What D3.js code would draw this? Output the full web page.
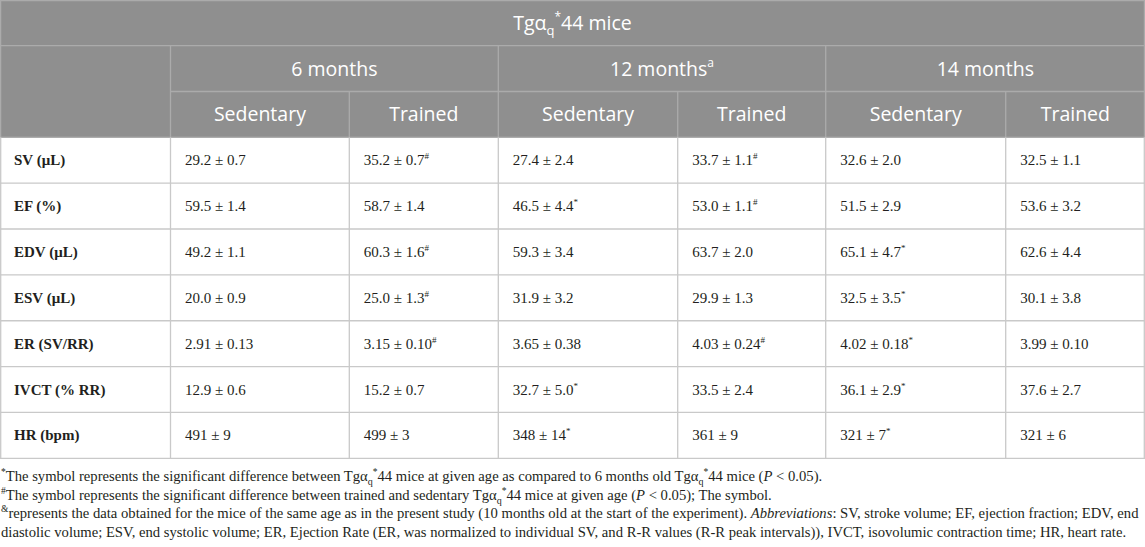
<!DOCTYPE html>
<html><head><meta charset="utf-8">
<script src="https://cdn.jsdelivr.net/npm/d3@7/dist/d3.min.js"></script>
<style>
html,body{margin:0;padding:0;background:#fff;}
svg{display:block;}
</style></head>
<body>
<svg id="chart" width="1145" height="547"></svg>
<script>
// ---- data ----
const titleParts = ["Tgα", "q", "*", "44 mice"];
const ages = ["6 months", "12 months", "14 months"];
const ageSup = ["", "a", ""];
const groups = ["Sedentary", "Trained"];
const rowLabels = ["SV (μL)", "EF (%)", "EDV (μL)", "ESV (μL)", "ER (SV/RR)", "IVCT (% RR)", "HR (bpm)"];
const sed6   = ["29.2 ± 0.7", "59.5 ± 1.4", "49.2 ± 1.1", "20.0 ± 0.9", "2.91 ± 0.13", "12.9 ± 0.6", "491 ± 9"];
const sed6M  = ["", "", "", "", "", "", ""];
const tr6    = ["35.2 ± 0.7", "58.7 ± 1.4", "60.3 ± 1.6", "25.0 ± 1.3", "3.15 ± 0.10", "15.2 ± 0.7", "499 ± 3"];
const tr6M   = ["#", "", "#", "#", "#", "", ""];
const sed12  = ["27.4 ± 2.4", "46.5 ± 4.4", "59.3 ± 3.4", "31.9 ± 3.2", "3.65 ± 0.38", "32.7 ± 5.0", "348 ± 14"];
const sed12M = ["", "*", "", "", "", "*", "*"];
const tr12   = ["33.7 ± 1.1", "53.0 ± 1.1", "63.7 ± 2.0", "29.9 ± 1.3", "4.03 ± 0.24", "33.5 ± 2.4", "361 ± 9"];
const tr12M  = ["#", "#", "", "", "#", "", ""];
const sed14  = ["32.6 ± 2.0", "51.5 ± 2.9", "65.1 ± 4.7", "32.5 ± 3.5", "4.02 ± 0.18", "36.1 ± 2.9", "321 ± 7"];
const sed14M = ["", "", "*", "*", "*", "*", "*"];
const tr14   = ["32.5 ± 1.1", "53.6 ± 3.2", "62.6 ± 4.4", "30.1 ± 3.8", "3.99 ± 0.10", "37.6 ± 2.7", "321 ± 6"];
const tr14M  = ["", "", "", "", "", "", ""];
const footnotes = [
  [["sup","*"],["t","The symbol represents the significant difference between Tgα"],["sub","q"],["sup","*"],["t","44 mice at given age as compared to 6 months old Tgα"],["sub","q"],["sup","*"],["t","44 mice ("],["i","P"],["t"," < 0.05)."]],
  [["sup","#"],["t","The symbol represents the significant difference between trained and sedentary Tgα"],["sub","q"],["sup","*"],["t","44 mice at given age ("],["i","P"],["t"," < 0.05); The symbol."]],
  [["sup","&"],["t","represents the data obtained for the mice of the same age as in the present study (10 months old at the start of the experiment). "],["i","Abbreviations"],["t",": SV, stroke volume; EF, ejection fraction; EDV, end"]],
  [["t","diastolic volume; ESV, end systolic volume; ER, Ejection Rate (ER, was normalized to individual SV, and R-R values (R-R peak intervals)), IVCT, isovolumic contraction time; HR, heart rate."]]
];

// ---- layout ----
const W = 1145;
const colEdges = [0, 170.5, 349.3, 498.3, 677.7, 825.7, 1005.7, 1145];
const headerRows = [0, 45.7, 91.5, 137.3];
const tableBottom = 458.3;
const headBg = "#8f8f8f";
const headLine = "#ababab";
const bodyLine = "#c9c9c9";
const serif = "'Liberation Serif','Times New Roman',serif";
const sans = "'Open Sans','Noto Sans',sans-serif";

const svg = d3.select("#chart");

const columns = [
  {vals: sed6, marks: sed6M}, {vals: tr6, marks: tr6M},
  {vals: sed12, marks: sed12M}, {vals: tr12, marks: tr12M},
  {vals: sed14, marks: sed14M}, {vals: tr14, marks: tr14M}
];

const y = d3.scaleBand().domain(d3.range(rowLabels.length)).range([headerRows[3], tableBottom]);
const colIdx = d3.range(colEdges.length - 1);
const xL = d3.scaleOrdinal().domain(colIdx).range(colEdges.slice(0, -1));
const xR = d3.scaleOrdinal().domain(colIdx).range(colEdges.slice(1));

// header background
svg.append("rect").attr("x", 0).attr("y", 0).attr("width", W).attr("height", headerRows[3]).attr("fill", headBg);

// header lines
const hl = svg.append("g").attr("stroke", headLine).attr("stroke-width", 1.3);
hl.append("line").attr("x1", 0).attr("x2", W).attr("y1", headerRows[1]).attr("y2", headerRows[1]);
hl.append("line").attr("x1", colEdges[1]).attr("x2", W).attr("y1", headerRows[2]).attr("y2", headerRows[2]);
[1, 3, 5].forEach(i => hl.append("line").attr("x1", colEdges[i]).attr("x2", colEdges[i]).attr("y1", headerRows[1]).attr("y2", headerRows[3]));
[2, 4, 6].forEach(i => hl.append("line").attr("x1", colEdges[i]).attr("x2", colEdges[i]).attr("y1", headerRows[2]).attr("y2", headerRows[3]));
hl.append("rect").attr("x", 0.6).attr("y", 0.6).attr("width", W - 1.2).attr("height", headerRows[3] - 0.6).attr("fill", "none");

// title
const tt = svg.append("text").attr("x", W / 2).attr("y", (headerRows[0] + headerRows[1]) / 2 + 7)
  .attr("text-anchor", "middle").attr("fill", "#fff").attr("font-family", sans).attr("font-size", 19.5);
tt.append("tspan").text(titleParts[0]);
tt.append("tspan").attr("font-size", 13).attr("dy", 5).text(titleParts[1]);
tt.append("tspan").attr("font-size", 12).attr("dy", -14).text(titleParts[2]);
tt.append("tspan").attr("dy", 9).text(titleParts[3]);

// ages
ages.forEach((a, k) => {
  const x0 = colEdges[1 + 2 * k], x1 = colEdges[3 + 2 * k];
  const t = svg.append("text").attr("x", (x0 + x1) / 2).attr("y", (headerRows[1] + headerRows[2]) / 2 + 7)
    .attr("text-anchor", "middle").attr("fill", "#fff").attr("font-family", sans).attr("font-size", 19.5);
  t.append("tspan").text(a);
  if (ageSup[k]) t.append("tspan").attr("font-size", 12).attr("dy", -9).text(ageSup[k]);
});

// groups
colIdx.slice(1).forEach(c => {
  svg.append("text").attr("x", (xL(c) + xR(c)) / 2).attr("y", (headerRows[2] + headerRows[3]) / 2 + 7)
    .attr("text-anchor", "middle").attr("fill", "#fff").attr("font-family", sans).attr("font-size", 19.5)
    .text(groups[(c - 1) % 2]);
});

// body grid
const bl = svg.append("g").attr("stroke", bodyLine).attr("stroke-width", 1.3);
rowLabels.forEach((r, i) => {
  bl.append("line").attr("x1", 0).attr("x2", W).attr("y1", y(i) + y.bandwidth()).attr("y2", y(i) + y.bandwidth());
});
colEdges.forEach((e, i) => {
  const xx = i === 0 ? 0.7 : (i === colEdges.length - 1 ? W - 0.7 : e);
  bl.append("line").attr("x1", xx).attr("x2", xx).attr("y1", headerRows[3]).attr("y2", tableBottom);
});

// row labels
svg.append("g").selectAll("text").data(rowLabels).join("text")
  .attr("x", colEdges[0] + 14).attr("y", (d, i) => y(i) + y.bandwidth() / 2 + 5)
  .attr("font-family", serif).attr("font-weight", "bold").attr("font-size", 15).attr("fill", "#231f20")
  .text(d => d);

// values
columns.forEach((col, c) => {
  const g = svg.append("g");
  col.vals.forEach((v, i) => {
    const t = g.append("text").attr("x", xL(c + 1) + 14.5).attr("y", y(i) + y.bandwidth() / 2 + 5)
      .attr("font-family", serif).attr("font-size", 15).attr("fill", "#231f20");
    t.append("tspan").text(v);
    if (col.marks[i]) t.append("tspan").attr("font-size", 9).attr("dy", -6).text(col.marks[i]);
  });
});

// footnotes
const fnY0 = 481, fnStep = 18.6;
footnotes.forEach((parts, li) => {
  const t = svg.append("text").attr("x", 1).attr("y", fnY0 + li * fnStep)
    .attr("font-family", serif).attr("font-size", 14.65).attr("fill", "#231f20");
  let state = 0;
  parts.forEach(([kind, s]) => {
    const ts = t.append("tspan");
    let target = 0;
    if (kind === "sup") { target = -6; ts.attr("font-size", 9.5); }
    else if (kind === "sub") { target = 4; ts.attr("font-size", 10); }
    if (kind === "i") ts.attr("font-style", "italic");
    ts.attr("dy", target - state);
    state = target;
    ts.text(s);
  });
});
</script>
</body></html>
